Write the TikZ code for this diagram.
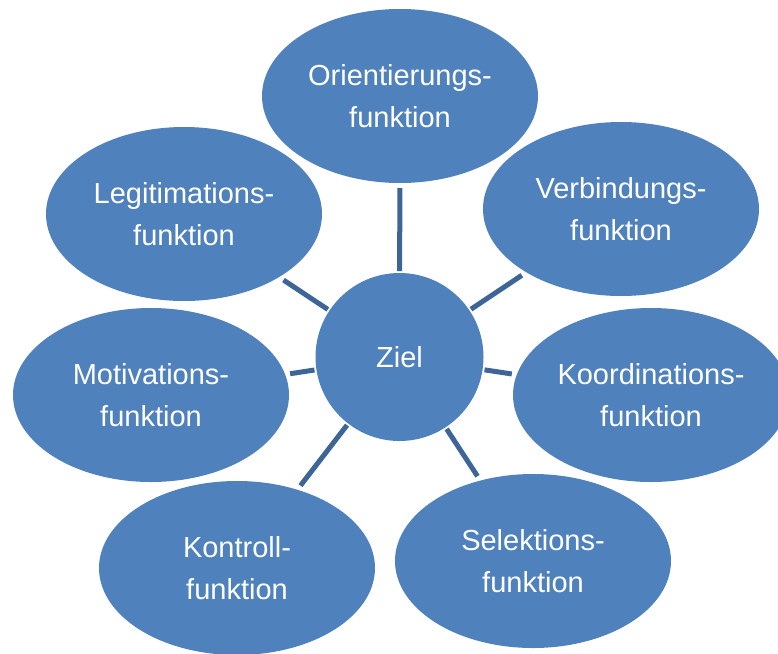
\documentclass[tikz,border=0pt]{standalone}
\usepackage{fontspec}
\setmainfont{Liberation Sans}
\usetikzlibrary{shapes.geometric}
\definecolor{bubblefill}{HTML}{4F81BD}
\definecolor{spokeline}{HTML}{3D6597}
\begin{document}
\begin{tikzpicture}[x=1pt,y=-1pt,
  bubble/.style={ellipse, fill=bubblefill, text=white, minimum width=276pt,
    minimum height=174pt, inner sep=0pt, outer sep=5pt, align=center,
    font=\fontsize{29}{42.5}\selectfont},
  hub/.style={circle, fill=bubblefill, text=white, minimum size=168pt,
    inner sep=0pt, outer sep=2pt, font=\fontsize{29}{42.5}\selectfont},
  spoke/.style={draw=spokeline, line width=5pt}]
\useasboundingbox (0,0) rectangle (778,653);
\clip (0,0) rectangle (778,653);

% outer functions
\node[bubble] (orient)   at (400,96)  {Orientierungs-\\funktion};
\node[bubble] (verb)     at (621,209) {Verbindungs-\\funktion};
\node[bubble] (legit)    at (184,214) {Legitimations-\\funktion};
\node[bubble] (motiv)    at (151,395) {Motivations-\\funktion};
\node[bubble] (koord)    at (651,395) {Koordinations-\\funktion};
\node[bubble] (kontr)    at (237,568) {Kontroll-\\funktion};
\node[bubble] (selekt)   at (533,561) {Selektions-\\funktion};

% central goal
\node[hub] (ziel) at (399.5,357) {Ziel};

% spokes
\foreach \n in {orient,verb,legit,motiv,koord,kontr,selekt}
  \draw[spoke] (ziel) -- (\n);
\end{tikzpicture}
\end{document}
